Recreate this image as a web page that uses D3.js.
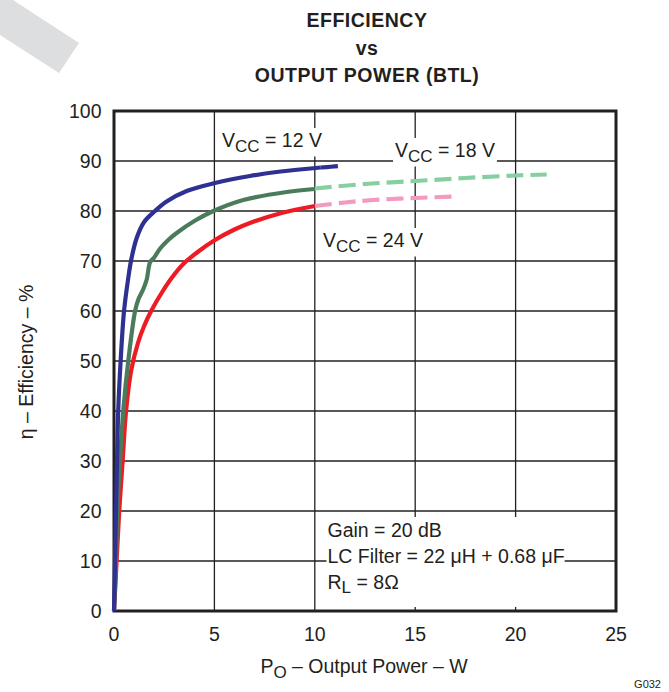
<!DOCTYPE html>
<html>
<head>
<meta charset="utf-8">
<script src="https://cdn.jsdelivr.net/npm/d3@7"></script>
<style>
  html, body { margin: 0; padding: 0; background: #fff; }
  svg { display: block; }
  text { font-family: "Liberation Sans", Arial, Helvetica, sans-serif; fill: #231f20; }
</style>
</head>
<body>
<svg id="chart" width="669" height="692"></svg>
<script>
// Efficiency (%) versus output power (W), BTL mode, three supply voltages.
const xTicks = [0, 5, 10, 15, 20, 25];
const yTicks = [0, 10, 20, 30, 40, 50, 60, 70, 80, 90, 100];

// VCC = 12 V
const p12 = [0, 0.05, 0.1, 0.15, 0.21, 0.33, 0.5, 0.7, 0.86, 1.13, 1.5, 2.04, 2.62, 3.62, 5.03, 6.77, 8.3, 10.3];
const e12 = [0, 10, 20, 30, 40, 50, 60, 66.3, 70.3, 74.6, 77.8, 80, 81.9, 84.0, 85.6, 87, 87.9, 88.7];
const p12x = [10.3, 10.8, 11.25];
const e12x = [88.7, 88.85, 89.0];

// VCC = 18 V
const p18 = [0, 0.1, 0.16, 0.3, 0.46, 0.71, 1.05, 1.21, 1.45, 1.63, 1.8, 1.98, 2.3, 2.7, 3.12, 4.0, 4.95, 6.44, 8.6, 10.0];
const e18 = [0, 10, 20, 30, 40, 50, 60, 62.3, 64.3, 66.3, 69.8, 70.6, 72.5, 74.2, 75.6, 78.0, 80, 82.2, 83.8, 84.4];
const p18x = [10.0, 12.5, 15, 17.5, 20, 21.55];
const e18x = [84.5, 85.4, 86.0, 86.6, 87.1, 87.3];

// VCC = 24 V
const p24 = [0, 0.13, 0.26, 0.43, 0.6, 0.85, 1.2, 1.5, 1.85, 2.4, 2.87, 3.45, 4.2, 5.03, 6.0, 6.77, 8.35, 10.0];
const e24 = [0, 10, 20, 30, 40, 48, 53.7, 57, 60, 63.8, 66.6, 69.4, 71.9, 74.2, 76.3, 77.6, 79.6, 81];
const p24x = [10.0, 11.5, 12.9, 15, 17];
const e24x = [81, 81.7, 82.2, 82.6, 82.9];

const seriesSolid = [
  { p: p12, e: e12, color: "#2e3192" },
  { p: p18, e: e18, color: "#4a7c5c" },
  { p: p24, e: e24, color: "#ed1c24" }
];
const seriesDashed = [
  { p: p12x, e: e12x, color: "#2e3192" },
  { p: p18x, e: e18x, color: "#86cfa0" },
  { p: p24x, e: e24x, color: "#f49ac1" }
];

const svg = d3.select("#chart");
const x = d3.scaleLinear().domain([0, 25]).range([114, 616]);
const y = d3.scaleLinear().domain([0, 100]).range([611, 111]);
const ink = "#231f20";

// faint diagonal band in the page corner
svg.append("polygon")
  .attr("points", "0,0 13,0 79,43 59,73 0,35")
  .attr("fill", "#dddee0");

// grid
const grid = svg.append("g");
grid.selectAll("line.v").data(xTicks.slice(1, -1)).join("line")
  .attr("x1", d => x(d)).attr("x2", d => x(d))
  .attr("y1", y(0)).attr("y2", y(100))
  .attr("stroke", ink).attr("stroke-width", 1.3);
grid.selectAll("line.h").data(yTicks.slice(1, -1)).join("line")
  .attr("x1", x(0)).attr("x2", x(25))
  .attr("y1", d => y(d)).attr("y2", d => y(d))
  .attr("stroke", ink).attr("stroke-width", 1.3);

// tick labels
svg.append("g").selectAll("text").data(yTicks).join("text")
  .attr("x", 101.5).attr("y", d => y(d) + 6.6)
  .attr("text-anchor", "end").attr("font-size", 19.5)
  .text(d => d);
svg.append("g").selectAll("text").data(xTicks).join("text")
  .attr("x", d => x(d)).attr("y", 641)
  .attr("text-anchor", "middle").attr("font-size", 19.5)
  .text(d => d);

// "V_CC = n V" label with subscript
function vcc(g, px, py, volts) {
  const t = g.append("text").attr("x", px).attr("y", py).attr("font-size", 19.5);
  t.append("tspan").text("V");
  t.append("tspan").text("CC").attr("font-size", 17).attr("dy", 4.5);
  t.append("tspan").text(" = " + volts + " V").attr("dy", -4.5);
  return t;
}

// curve labels on white backgrounds
const labels = svg.append("g");
const bgLayer = labels.append("g");
const lab12 = vcc(labels, 222, 147, 12);
const lab18 = vcc(labels, 395, 157, 18);
const lab24 = vcc(labels, 323, 247, 24);
[lab12, lab18, lab24].forEach(t => {
  const b = t.node().getBBox();
  bgLayer.append("rect").attr("x", b.x - 2).attr("y", b.y - 1)
    .attr("width", b.width + 4).attr("height", b.height + 2).attr("fill", "#fff");
});

// test conditions box
const cond = svg.append("g");
const condBg = cond.append("g");
const c1 = cond.append("text").attr("x", 327.5).attr("y", 537).attr("font-size", 19.5).text("Gain = 20 dB");
const c2 = cond.append("text").attr("x", 327.5).attr("y", 563).attr("font-size", 19.5).text("LC Filter = 22 \u03bcH + 0.68 \u03bcF");
const c3 = cond.append("text").attr("x", 327.5).attr("y", 588.5).attr("font-size", 19.5);
c3.append("tspan").text("R");
c3.append("tspan").text("L").attr("font-size", 17).attr("dy", 4.5);
c3.append("tspan").text(" = 8\u03a9").attr("dy", -4.5);
{
  const bs = [c1, c2, c3].map(t => t.node().getBBox());
  const x0 = d3.min(bs, b => b.x), x1 = d3.max(bs, b => b.x + b.width);
  const y0 = d3.min(bs, b => b.y);
  condBg.append("rect").attr("x", x0 - 1).attr("y", y0 - 2)
    .attr("width", x1 - x0 + 1).attr("height", y(0) - 4 - (y0 - 2)).attr("fill", "#fff");
}

// frame
svg.append("rect")
  .attr("x", x(0)).attr("y", y(100))
  .attr("width", x(25) - x(0)).attr("height", y(0) - y(100))
  .attr("fill", "none").attr("stroke", ink).attr("stroke-width", 3);

// curves
const line = d3.line().x(d => x(d[0])).y(d => y(d[1])).curve(d3.curveCatmullRom.alpha(0.5));
const curves = svg.append("g").attr("fill", "none");
seriesDashed.forEach(s => {
  curves.append("path")
    .attr("d", line(s.p.map((v, i) => [v, s.e[i]])))
    .attr("stroke", s.color).attr("stroke-width", 4.2)
    .attr("stroke-dasharray", "17,7");
});
seriesSolid.slice().reverse().forEach(s => {
  curves.append("path")
    .attr("d", line(s.p.map((v, i) => [v, s.e[i]])))
    .attr("stroke", s.color).attr("stroke-width", 4.2)
    .attr("stroke-linejoin", "round");
});

// titles
const title = svg.append("g");
[["EFFICIENCY", 27], ["vs", 55], ["OUTPUT POWER (BTL)", 82]].forEach(([s, ty]) => {
  title.append("text").attr("x", 367).attr("y", ty)
    .attr("text-anchor", "middle").attr("font-size", 19.5)
    .attr("font-weight", "bold").attr("letter-spacing", 0.5).text(s);
});

// axis titles
const xt = svg.append("text").attr("x", 364).attr("y", 673)
  .attr("text-anchor", "middle").attr("font-size", 19.5);
xt.append("tspan").text("P");
xt.append("tspan").text("O").attr("font-size", 17).attr("dy", 4.5);
xt.append("tspan").text(" \u2013 Output Power \u2013 W").attr("dy", -4.5);

svg.append("text")
  .attr("transform", "translate(33,362) rotate(-90)")
  .attr("text-anchor", "middle").attr("font-size", 19.5)
  .text("\u03b7 \u2013 Efficiency \u2013 %");

svg.append("text").attr("x", 661).attr("y", 688)
  .attr("text-anchor", "end").attr("font-size", 11).text("G032");
</script>
</body>
</html>
